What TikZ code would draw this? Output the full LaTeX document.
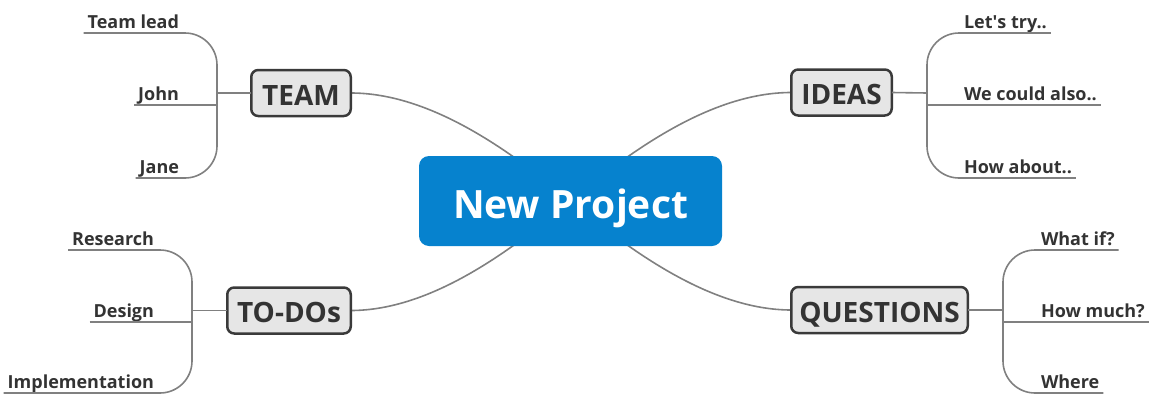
\documentclass[tikz,border=0pt]{standalone}
\usepackage{fontspec}
\setmainfont{Open Sans}
\usetikzlibrary{backgrounds}
\definecolor{hubblue}{RGB}{6,130,206}
\definecolor{topicfill}{RGB}{230,230,230}
\definecolor{topicedge}{RGB}{58,58,58}
\definecolor{inkgray}{RGB}{51,51,51}
\definecolor{wiregray}{RGB}{128,128,128}
\begin{document}
\begin{tikzpicture}[x=1pt,y=-1pt,
  hub/.style={fill=hubblue, rounded corners=10pt, minimum width=303pt, minimum height=90pt,
    text=white, font=\bfseries\fontsize{39}{44}\selectfont, inner sep=0pt, outer sep=0pt,
    text height=34pt, text depth=0pt},
  topic/.style={fill=topicfill, draw=topicedge, line width=2.5pt, rounded corners=7pt,
    minimum height=46pt, text=inkgray, font=\bfseries\fontsize{28}{32}\selectfont,
    inner sep=0pt, outer sep=0pt, text height=24pt, text depth=0pt},
  leaf/.style={text=inkgray, font=\bfseries\fontsize{18}{20}\selectfont, inner xsep=4pt,
    inner ysep=5pt, text depth=0pt, outer sep=0pt},
  leafL/.style={leaf, anchor=south east},
  leafR/.style={leaf, anchor=south west},
  stem/.style={draw=wiregray, line width=1.6pt},
  branch/.style={draw=wiregray, line width=1.6pt, rounded corners=32pt}]
\useasboundingbox (0,0) rectangle (1152,394);

% central topic and the four main topics
\node[hub] (main) at (570.5,201) {New Project};
\node[topic, minimum width=99.5pt] (team) at (301,93) {TEAM};
\node[topic, minimum width=100.5pt] (ideas) at (841.5,92.5) {IDEAS};
\node[topic, minimum width=123.5pt] (todos) at (289,310.5) {TO-DOs};
\node[topic, minimum width=176.5pt] (quest) at (879.5,310) {QUESTIONS};

% bracket spines
\coordinate (tb) at (217,93);
\coordinate (ib) at (927,93);
\coordinate (db) at (192,310.5);
\coordinate (qb) at (1003,310);

% subtopics
\node[leafL] (lead) at (183,33) {Team lead};
\node[leafL] (john) at (183,105) {John};
\node[leafL] (jane) at (183,178) {Jane};
\node[leafR] (try) at (960,33) {Let\textquotesingle s try..};
\node[leafR] (also) at (960,105) {We could also..};
\node[leafR] (about) at (960,178) {How about..};
\node[leafL] (research) at (158,250) {Research};
\node[leafL] (design) at (158,322) {Design};
\node[leafL] (impl) at (158,393) {Implementation};
\node[leafR] (whatif) at (1037,250) {What if?};
\node[leafR] (howmuch) at (1037,322) {How much?};
\node[leafR] (where) at (1037,393) {Where};

% curved links to the central topic
\begin{scope}[on background layer]
\draw[stem] (team.east) .. controls +(80,0) and +(-60,-50) .. (main.center);
\draw[stem] (ideas.west) .. controls +(-80,0) and +(60,-50) .. (main.center);
\draw[stem] (todos.east) .. controls +(80,0) and +(-60,50) .. (main.center);
\draw[stem] (quest.west) .. controls +(-80,0) and +(60,50) .. (main.center);
\end{scope}

% TEAM
\draw[branch] (lead.south west) -- (lead.south west -| tb) -- (jane.south west -| tb) -- (jane.south west);
\draw[stem] (john.south west) -- (john.south west -| tb);
\draw[stem] (team.west) -- (tb);

% IDEAS
\draw[branch] (try.south east) -- (try.south east -| ib) -- (about.south east -| ib) -- (about.south east);
\draw[stem] (also.south east) -- (also.south east -| ib);
\draw[stem] (ideas.east) -- (ib);

% TO-DOs
\draw[branch] (research.south west) -- (research.south west -| db) -- (impl.south west -| db) -- (impl.south west);
\draw[stem] (design.south west) -- (design.south west -| db);
\draw[stem] (todos.west) -- (db);

% QUESTIONS
\draw[branch] (whatif.south east) -- (whatif.south east -| qb) -- (where.south east -| qb) -- (where.south east);
\draw[stem] (howmuch.south east) -- (howmuch.south east -| qb);
\draw[stem] (quest.east) -- (qb);
\end{tikzpicture}
\end{document}
